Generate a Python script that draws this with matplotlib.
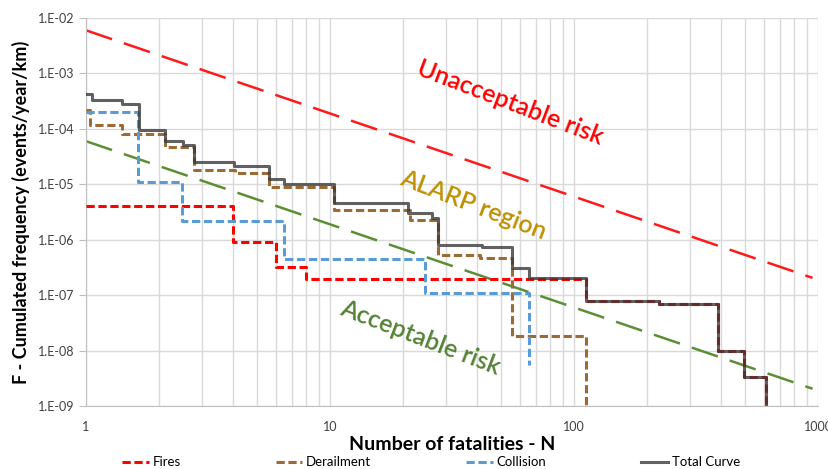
import matplotlib.pyplot as plt
from matplotlib.ticker import FixedLocator, FuncFormatter, NullFormatter
import numpy as np

# F-N curve data: step start points (N) and cumulated frequency F (events/year/km)
fires_n = [1, 4, 6, 8, 112, 223, 389, 497, 612]
fires_f = [4.0e-6, 9.2e-7, 3.25e-7, 1.92e-7, 7.8e-8, 6.8e-8, 9.9e-9, 3.3e-9, 5e-10]

derail_n = [1, 1.04, 1.40, 2.11, 2.77, 4.1, 5.6, 10.4, 21.3, 27.7, 41.2, 55.7, 112]
derail_f = [2.2e-4, 1.17e-4, 8.0e-5, 4.7e-5, 1.8e-5, 1.57e-5, 9.1e-6, 3.5e-6,
            2.26e-6, 5.3e-7, 4.6e-7, 1.85e-8, 5e-10]

coll_n = [1, 1.63, 2.47, 6.5, 24.5, 65.4]
coll_f = [2.0e-4, 1.1e-5, 2.2e-6, 4.4e-7, 1.1e-7, 5.6e-9]

total_n = [1, 1.06, 1.40, 1.65, 2.11, 2.5, 2.77, 4.04, 5.6, 6.5, 10.4, 20.9, 26.2,
           27.7, 42, 55.7, 65.4, 112, 223, 389, 497, 612]
total_f = [4.2e-4, 3.3e-4, 2.85e-4, 9.5e-5, 6.0e-5, 5.2e-5, 2.5e-5, 2.1e-5, 1.24e-5,
           1.02e-5, 4.6e-6, 3.0e-6, 2.45e-6, 7.9e-7, 7.3e-7, 3.1e-7, 2.0e-7, 7.8e-8,
           6.8e-8, 9.9e-9, 3.3e-9, 5e-10]

# risk criteria lines (slope -1.5 in log-log)
crit_n = [1, 950]
unacc_f = [6.0e-3, 6.0e-3 * 950 ** -1.5]
acc_f = [6.0e-5, 6.0e-5 * 950 ** -1.5]

plt.rcParams['font.family'] = ['Lato', 'DejaVu Sans']

fig = plt.figure(figsize=(8.29, 4.69), dpi=100)
ax = fig.add_axes([0.1037, 0.1343, 0.8830, 0.8273])

ax.set_xscale('log')
ax.set_yscale('log')
ax.set_xlim(1, 1000)
ax.set_ylim(1e-9, 1e-2)

# grid
ax.grid(True, which='major', color='#d9d9d9', lw=1)
ax.xaxis.set_minor_locator(FixedLocator([k * 10 ** d for d in range(3) for k in range(2, 10)]))
ax.grid(True, which='minor', axis='x', color='#d9d9d9', lw=1)
ax.yaxis.set_minor_locator(FixedLocator([]))
ax.set_axisbelow(True)
for s in ['top', 'right']:
    ax.spines[s].set_visible(False)
for s in ['left', 'bottom']:
    ax.spines[s].set_color('#bfbfbf')

ax.set_yticks([10.0 ** k for k in range(-9, -1)])
ax.yaxis.set_major_formatter(FuncFormatter(lambda v, p: '1.E%03d' % int(round(np.log10(v)))))
ax.set_xticks([1, 10, 100, 1000])
ax.xaxis.set_major_formatter(FuncFormatter(lambda v, p: '%d' % v))
ax.xaxis.set_minor_formatter(NullFormatter())
ax.tick_params(axis='y', which='major', length=5, color='#bfbfbf', labelsize=9, labelcolor='#404040', pad=3)
ax.tick_params(axis='x', which='major', length=0, labelsize=9, labelcolor='#404040', pad=11)
ax.tick_params(axis='x', which='minor', length=0)

# criteria lines
ax.plot(crit_n, unacc_f, color='#ff1a1a', lw=1.8, dashes=(11, 5), zorder=2)
ax.plot(crit_n, acc_f, color='#5b8f34', lw=1.8, dashes=(11, 5), zorder=2)

# F-N step curves
ax.plot(fires_n, fires_f, drawstyle='steps-post', color='#ff0000', lw=2.2, dashes=(2.7, 1.2), label='Fires', zorder=3)
ax.plot(derail_n, derail_f, drawstyle='steps-post', color='#9c6a34', lw=2.2, dashes=(2.7, 1.2), label='Derailment', zorder=3)
ax.plot(coll_n, coll_f, drawstyle='steps-post', color='#5b9bd5', lw=2.2, dashes=(2.7, 1.2), label='Collision', zorder=3)
ax.plot(total_n, total_f, drawstyle='steps-post', color='#3a3a3a', lw=2.2, alpha=0.8, label='Total Curve', zorder=4)

# region labels (pixel positions, origin bottom-left)
ax.text(510, 366, 'Unacceptable risk', transform=None, color='#ff0000', fontsize=18,
        fontweight='semibold', rotation=-21, ha='center', va='center')
ax.text(473, 264, 'ALARP region', transform=None, color='#bf9000', fontsize=18,
        fontweight='semibold', rotation=-21, ha='center', va='center')
ax.text(420, 131, 'Acceptable risk', transform=None, color='#548235', fontsize=18,
        fontweight='semibold', rotation=-21, ha='center', va='center')

ax.set_ylabel('F - Cumulated frequency (events/year/km)', fontsize=13, fontweight='bold', labelpad=6)
ax.set_xlabel('Number of fatalities - N', fontsize=14, fontweight='bold', labelpad=2)

fig.legend(loc='center', bbox_to_anchor=(0.52, 0.014), ncol=4, frameon=False, fontsize=9.5,
           handlelength=2.0, handletextpad=0.3, columnspacing=7.2)

fig.savefig('out.png', dpi=100)
